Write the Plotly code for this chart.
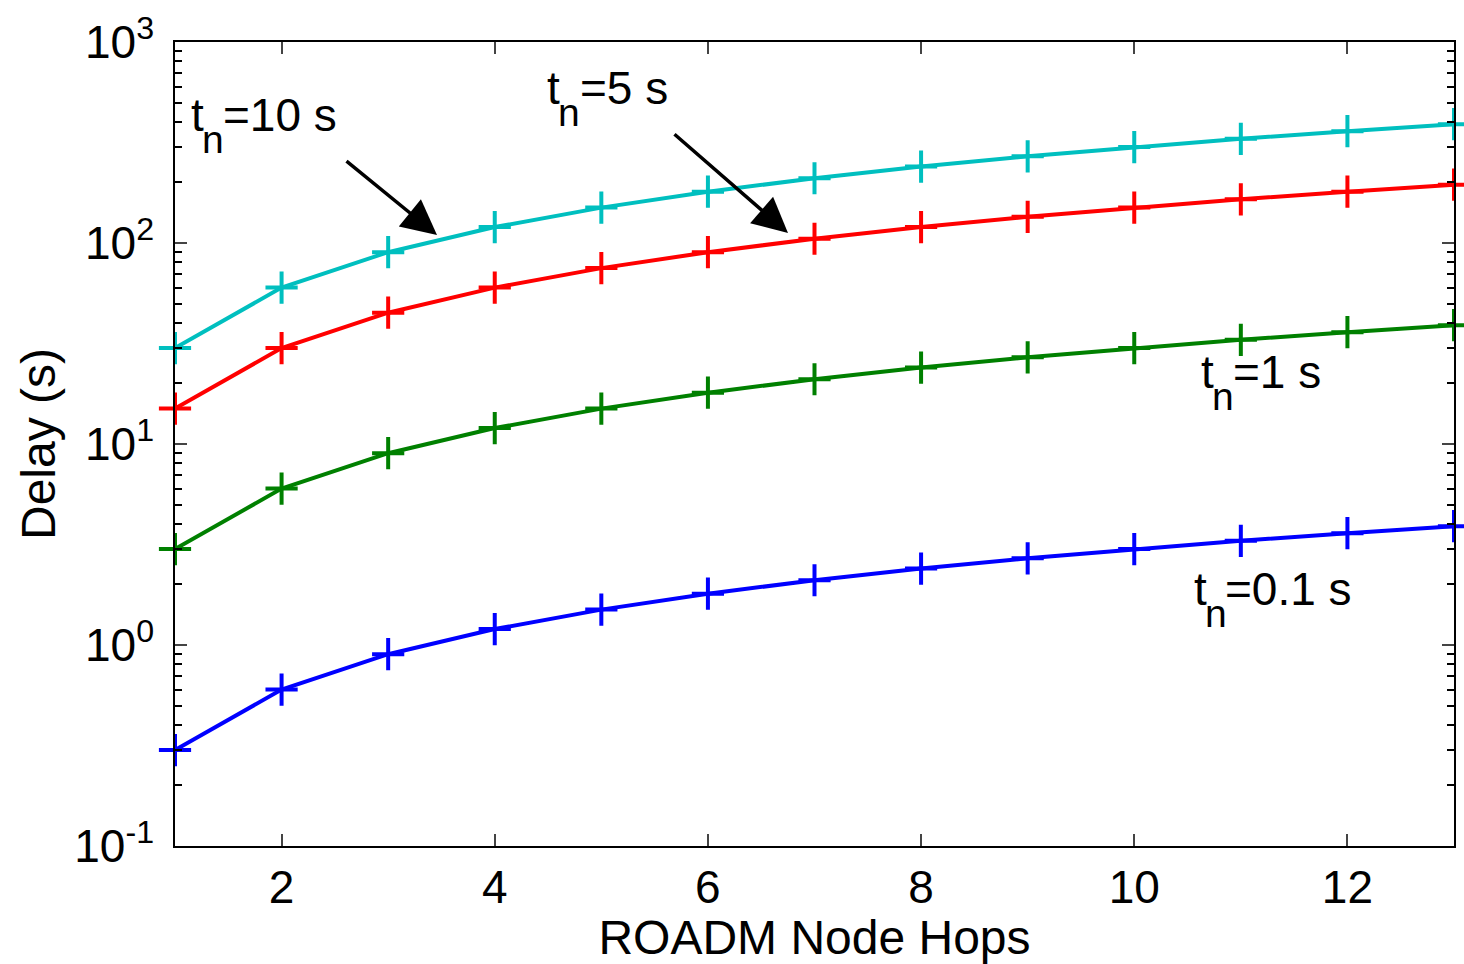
import math
import plotly.graph_objects as go

hops = [1, 2, 3, 4, 5, 6, 7, 8, 9, 10, 11, 12, 13]
delay_tn10 = [30, 60, 90, 120, 150, 180, 210, 240, 270, 300, 330, 360, 390]
delay_tn5 = [15, 30, 45, 60, 75, 90, 105, 120, 135, 150, 165, 180, 195]
delay_tn1 = [3, 6, 9, 12, 15, 18, 21, 24, 27, 30, 33, 36, 39]
delay_tn01 = [0.3, 0.6, 0.9, 1.2, 1.5, 1.8, 2.1, 2.4, 2.7, 3.0, 3.3, 3.6, 3.9]

x_ticks = [2, 4, 6, 8, 10, 12]
y_ticks = [0.1, 1, 10, 100, 1000]
y_tick_labels = ["10<sup>-1</sup>", "10<sup>0</sup>", "10<sup>1</sup>", "10<sup>2</sup>", "10<sup>3</sup>"]

series = [
    (delay_tn10, "#00BFBF"),
    (delay_tn5, "#FF0000"),
    (delay_tn1, "#008000"),
    (delay_tn01, "#0000FF"),
]

FONT = "Liberation Sans, Arial, sans-serif"

W, H = 1464, 964
PL, PR, PT, PB = 175, 1454, 42, 846   # plot area in page pixels
X0, X1 = 1, 13
YL0, YL1 = -1, 3


def px_to_x(px):
    return X0 + (px - PL) * (X1 - X0) / (PR - PL)


def py_to_ylog(py):
    return YL1 - (py - PT) * (YL1 - YL0) / (PB - PT)


fig = go.Figure()
for vals, col in series:
    fig.add_trace(go.Scatter(
        x=hops, y=vals, mode="lines+markers",
        line=dict(color=col, width=4),
        marker=dict(symbol="cross-thin-open", size=23, line=dict(color=col, width=4)),
        showlegend=False, cliponaxis=False,
    ))

minor_vals = [m * 10 ** e for e in range(-1, 3) for m in range(2, 10)]

fig.update_xaxes(
    range=[X0, X1], tickvals=x_ticks, ticks="inside", ticklen=12, tickwidth=1.5,
    showline=True, linecolor="black", linewidth=1.5, mirror="ticks",
    showgrid=False, zeroline=False, automargin=False,
    tickfont=dict(family=FONT, size=46, color="black"),
    title=dict(text="ROADM Node Hops", font=dict(family=FONT, size=48, color="black"), standoff=10),
)
fig.update_yaxes(
    type="log", range=[YL0, YL1], tickvals=y_ticks, ticktext=y_tick_labels,
    ticks="inside", ticklen=12, tickwidth=1.5,
    showline=True, linecolor="black", linewidth=1.5, mirror="ticks",
    showgrid=False, zeroline=False, automargin=False,
    ticklabelstandoff=10,
    minor=dict(tickvals=minor_vals, ticks="inside", ticklen=7, tickwidth=1.5, tickcolor="black", showgrid=False),
    tickfont=dict(family=FONT, size=46, color="black"),
    title=dict(text="Delay (s)", font=dict(family=FONT, size=48, color="black"), standoff=3),
)

S_MAIN, S_SUB = 46, 39
# (main text, t-left px, baseline px, n-left px, rest-left px)
labels = [
    ("=10 s", 190, 130, 203, 223),
    ("=5 s", 546, 103, 559, 580),
    ("=1 s", 1200, 387, 1213, 1233),
    ("=0.1 s", 1193, 604, 1206, 1225),
]
SUB_DROP = 22


def put_text(txt, left_px, baseline_px, size):
    top_px = baseline_px - 0.905 * size - 1
    fig.add_annotation(x=px_to_x(left_px), y=py_to_ylog(top_px), text=txt, showarrow=False,
                       xanchor="left", yanchor="top",
                       font=dict(family=FONT, size=size, color="black"))


for rest, tx, base, nx, rx in labels:
    put_text("t", tx - 1, base, S_MAIN)
    put_text("n", nx - 3, base + SUB_DROP, S_SUB)
    put_text(rest, rx - 2, base, S_MAIN)

# arrows: (tip px, tip py, tail px, tail py)
arrows = [
    (437, 235, 345, 160),
    (788, 233, 673, 133),
]
for tx, ty, sx, sy in arrows:
    fig.add_annotation(x=px_to_x(tx), y=py_to_ylog(ty), text="", showarrow=True,
                       ax=sx - tx, ay=sy - ty,
                       arrowhead=2, arrowsize=2.0, arrowwidth=3.5, arrowcolor="black")

fig.update_layout(
    width=W, height=H,
    margin=dict(l=PL, r=W - PR, t=PT, b=H - PB),
    plot_bgcolor="white", paper_bgcolor="white",
)

fig.write_html("out.html", config={"displayModeBar": False},
               post_script="document.body.style.margin='0';document.body.style.overflow='hidden';")
